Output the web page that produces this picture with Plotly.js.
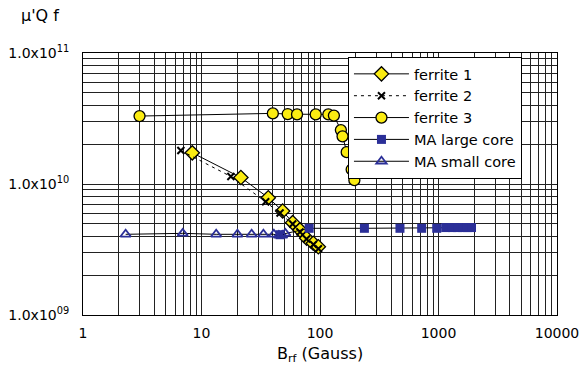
<!DOCTYPE html>
<html>
<head>
<meta charset="utf-8">
<script src="https://cdn.plot.ly/plotly-3.0.1.min.js"></script>
<style>html,body{margin:0;padding:0;background:#fff;}#chart{width:580px;height:372px;}</style>
</head>
<body>
<div id="chart"></div>
<script>
// ferrite 1 (diamonds)
const ferrite1_B = [8.36, 21.5, 36.6, 48.4, 58.8, 67.8, 77.2, 87.8, 96.8];
const ferrite1_Y = [1.73e10, 1.12e10, 7.86e9, 6.22e9, 5.07e9, 4.46e9, 3.85e9, 3.53e9, 3.32e9];
// ferrite 2 (crosses)
const ferrite2_B = [6.7, 17.7, 34.8, 46.0, 58.8, 67.8, 77.0, 88.0, 97.0];
const ferrite2_Y = [1.80e10, 1.14e10, 7.33e9, 6.0e9, 4.95e9, 4.3e9, 3.8e9, 3.45e9, 3.2e9];
// ferrite 3 (circles)
const ferrite3_B = [3.0, 40, 53.4, 64, 92, 117.6, 131, 150, 155, 168, 185, 195];
const ferrite3_Y = [3.30e10, 3.46e10, 3.42e10, 3.40e10, 3.40e10, 3.40e10, 3.33e10, 2.58e10, 2.31e10, 1.75e10, 1.29e10, 1.07e10];
// MA large core (squares)
const maLarge_B = [46, 81, 237, 473, 721, 966, 1150, 1300, 1450, 1600, 1750, 1900];
const maLarge_Y = [4.1e9, 4.59e9, 4.59e9, 4.59e9, 4.59e9, 4.59e9, 4.65e9, 4.65e9, 4.65e9, 4.65e9, 4.65e9, 4.65e9];
// MA small core (open triangles)
const maSmall_B = [2.29, 6.94, 13.3, 20.1, 26.5, 33.3, 40.8, 45.0, 48.0, 51.0];
const maSmall_Y = [4.13e9, 4.2e9, 4.13e9, 4.13e9, 4.13e9, 4.13e9, 4.13e9, 4.05e9, 4.05e9, 4.2e9];

const xMajorLabels = ["1", "10", "100", "1000", "10000"];
const yMajorLabels = ["1.0x10<sup>09</sup>", "1.0x10<sup>10</sup>", "1.0x10<sup>11</sup>"];

function logTicks(startExp, endExp, majorLabels) {
  const vals = [], text = [];
  for (let e = startExp; e <= endExp; e++) {
    for (let m = 1; m <= 9; m++) {
      if (e === endExp && m > 1) break;
      vals.push(m * Math.pow(10, e));
      text.push(m === 1 ? majorLabels[e - startExp] : "");
    }
  }
  return {vals, text};
}
const xt = logTicks(0, 4, xMajorLabels);
const yt = logTicks(9, 11, yMajorLabels);

const yellow = "#fbec12";
const blue = "#2b2f98";

const traces = [
  {x: ferrite1_B, y: ferrite1_Y, name: "ferrite 1", mode: "lines+markers",
   line: {color: "#000", width: 1},
   marker: {symbol: "diamond", size: 11, color: yellow, line: {color: "#000", width: 1.3}}},
  {x: ferrite2_B, y: ferrite2_Y, name: "ferrite 2", mode: "lines+markers",
   line: {color: "#000", width: 1, dash: "3px,4px"},
   marker: {symbol: "x-thin", size: 7, color: "#000", line: {color: "#000", width: 2}}},
  {x: ferrite3_B, y: ferrite3_Y, name: "ferrite 3", mode: "lines+markers",
   line: {color: "#000", width: 1},
   marker: {symbol: "circle", size: 11, color: yellow, line: {color: "#000", width: 1.3}}},
  {x: maLarge_B, y: maLarge_Y, name: "MA large core", mode: "lines+markers",
   line: {color: "#000", width: 1},
   marker: {symbol: "square", size: 9, color: blue, line: {color: blue, width: 0}}},
  {x: maSmall_B, y: maSmall_Y, name: "MA small core", mode: "lines+markers",
   line: {color: "#000", width: 1},
   marker: {symbol: "triangle-up-open", size: 9, color: blue, line: {color: blue, width: 1.8}}}
];

const layout = {
  width: 580, height: 372,
  margin: {l: 83, r: 23, t: 53, b: 57},
  paper_bgcolor: "#fff", plot_bgcolor: "#fff",
  font: {family: "DejaVu Sans, Arial, sans-serif", color: "#000", size: 14},
  showlegend: true,
  legend: {x: 0.559, y: 0.985, xanchor: "left", yanchor: "top",
           bgcolor: "#fff", bordercolor: "#000", borderwidth: 1,
           itemwidth: 55, entrywidth: 140, entrywidthmode: "pixels",
           font: {size: 14.5}},
  xaxis: {type: "log", range: [0, 4], tickmode: "array", tickvals: xt.vals, ticktext: xt.text,
          showgrid: true, gridcolor: "#222", gridwidth: 1, ticks: "", ticklabelstandoff: 5,
          showline: true, linecolor: "#000", linewidth: 1, mirror: true, zeroline: false},
  yaxis: {type: "log", range: [9, 11], tickmode: "array", tickvals: yt.vals, ticktext: yt.text,
          showgrid: true, gridcolor: "#222", gridwidth: 1, ticks: "", ticklabelstandoff: 10,
          showline: true, linecolor: "#000", linewidth: 1, mirror: true, zeroline: false},
  annotations: [
    {text: "\u03bc'Q f", xref: "paper", yref: "paper", x: -0.135, y: 1.145,
     xanchor: "left", yanchor: "middle", showarrow: false, font: {size: 16}},
    {text: "B<sub>rf</sub> (Gauss)", xref: "paper", yref: "paper", x: 0.5, y: -0.152,
     xanchor: "center", yanchor: "middle", showarrow: false, font: {size: 16}}
  ]
};

Plotly.newPlot("chart", traces, layout, {displayModeBar: false, staticPlot: true});
</script>
</body>
</html>
